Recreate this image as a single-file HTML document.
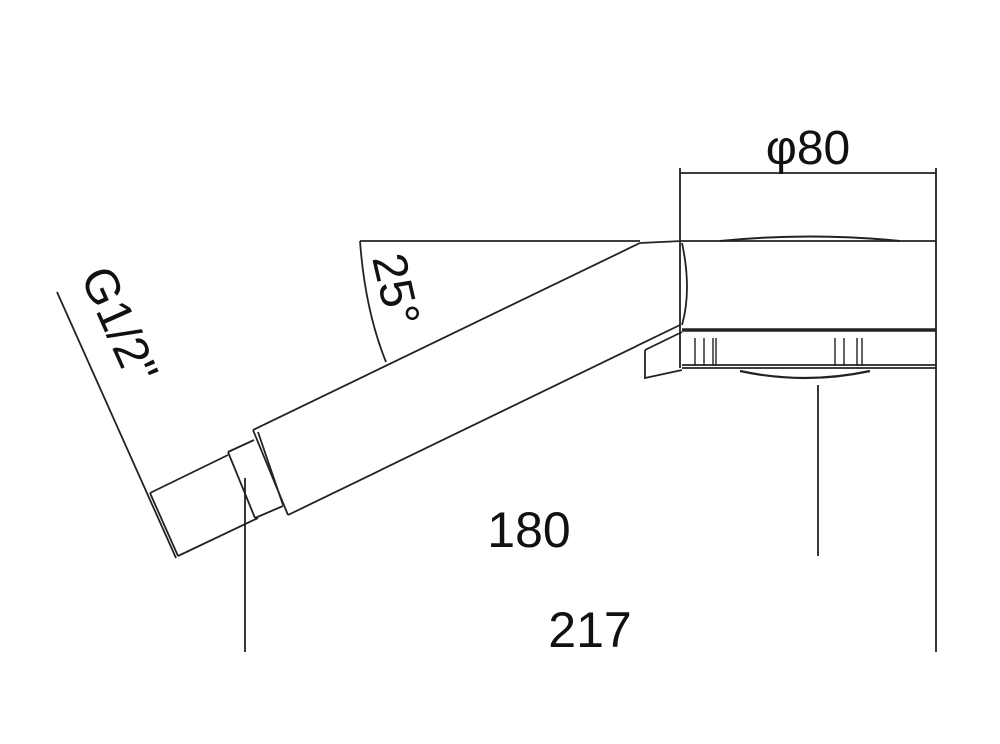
<!DOCTYPE html>
<html><head><style>html,body{margin:0;padding:0;background:#fff;}svg{display:block}</style></head>
<body>
<svg width="1000" height="744" viewBox="0 0 1000 744" xmlns="http://www.w3.org/2000/svg" font-family="Liberation Sans, sans-serif">
<g stroke="#222" stroke-width="1.8" fill="none">
<!-- head -->
<line x1="680" y1="168" x2="680" y2="368"/>
<line x1="936" y1="168" x2="936" y2="368"/>
<line x1="680" y1="173" x2="936" y2="173"/>
<path d="M682 241 L936 241"/>
<path d="M720 241 Q810 232 900 241" stroke-width="2"/>
<line x1="682" y1="330" x2="936" y2="330" stroke-width="3.5"/>
<line x1="682" y1="365" x2="936" y2="365"/>
<line x1="682" y1="368" x2="936" y2="368"/>
<path d="M682 243 Q692 290 682 325"/>
<g stroke-width="1.4">
<line x1="695" y1="338" x2="695" y2="366"/><line x1="704" y1="338" x2="704" y2="366"/><line x1="713" y1="338" x2="713" y2="366"/><line x1="716" y1="338" x2="716" y2="366"/>
<line x1="835" y1="338" x2="835" y2="366"/><line x1="844" y1="338" x2="844" y2="366"/><line x1="857" y1="338" x2="857" y2="366"/><line x1="862" y1="338" x2="862" y2="366"/>
</g>
<path d="M740 371 Q805 385 870 371" stroke-width="2.2"/>
<line x1="936" y1="368" x2="936" y2="652"/>
<!-- pipe -->
<path d="M640 243 L682 241"/>
<line x1="640" y1="243" x2="253" y2="430"/>
<line x1="680" y1="325" x2="288" y2="515"/>
<line x1="682" y1="332" x2="645" y2="350"/>
<path d="M645 350 L645 378 L682 370"/>
<line x1="253" y1="430" x2="288" y2="515"/>
<line x1="258" y1="432" x2="283" y2="505"/>
<!-- ring -->
<line x1="228" y1="452" x2="254" y2="440"/>
<line x1="228" y1="452" x2="255" y2="518"/>
<line x1="255" y1="518" x2="283" y2="506"/>
<!-- connector -->
<line x1="150" y1="493" x2="228" y2="455"/>
<line x1="178" y1="556" x2="258" y2="518"/>
<line x1="150" y1="493" x2="178" y2="556"/>
<!-- dims -->
<line x1="57" y1="292" x2="176" y2="558"/>
<line x1="360" y1="241" x2="640" y2="241"/>
<path d="M360 241 Q365 310 386 362"/>
<line x1="245" y1="478" x2="245" y2="652"/>
<line x1="818" y1="385" x2="818" y2="556"/>
</g>
<g fill="#111" font-size="50">
<text x="808" y="164" text-anchor="middle" font-size="48">φ80</text>
<text x="529" y="547" text-anchor="middle">180</text>
<text x="590" y="647" text-anchor="middle">217</text>
<text transform="translate(372,258) rotate(77)" font-size="48">25°</text>
<text transform="translate(80,276) rotate(66)" font-size="48">G1/2"</text>
</g>
</svg>
</body></html>
